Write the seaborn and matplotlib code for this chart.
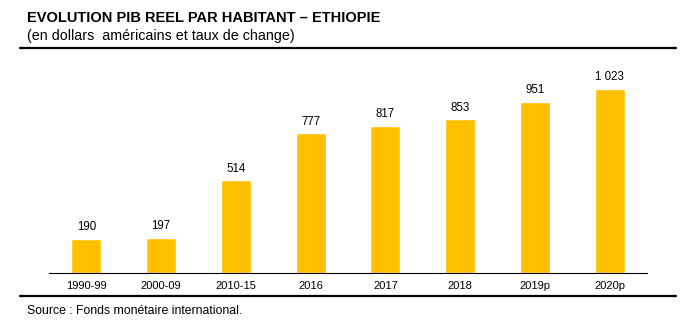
import matplotlib
matplotlib.use("Agg")
import matplotlib.pyplot as plt
import seaborn as sns
import pandas as pd
from matplotlib.lines import Line2D

categories = ["1990-99", "2000-09", "2010-15", "2016", "2017", "2018", "2019p", "2020p"]
values = [190, 197, 514, 777, 817, 853, 951, 1023]
labels = ["190", "197", "514", "777", "817", "853", "951", "1 023"]

sns.set_theme(style="white")
plt.rcParams['font.family'] = ['Liberation Sans', 'DejaVu Sans']

W, H = 696, 328
fig = plt.figure(figsize=(W / 100, H / 100), dpi=100)
ax = fig.add_axes([49 / W, (H - 273) / H, 598 / W, (273 - 60) / H])

df = pd.DataFrame({"cat": categories, "val": values})
sns.barplot(data=df, x="cat", y="val", color="#FFC000", saturation=1, width=0.4, ax=ax)
ax.set_ylim(0, 1183)
ax.set_xlim(-0.5, len(categories) - 0.5)

for p, lab in zip(ax.patches, labels):
    ax.annotate(lab, (p.get_x() + p.get_width() / 2, p.get_height()),
                xytext=(0, 4), textcoords="offset points", ha="center", va="bottom",
                fontsize=8.3, color="#000000")

ax.set_xlabel("")
ax.set_ylabel("")
ax.set_yticks([])
ax.tick_params(axis="x", length=0, labelsize=8, pad=6, colors="#000000")
for s in ["top", "right", "left"]:
    ax.spines[s].set_visible(False)
ax.spines["bottom"].set_color("#000000")
ax.spines["bottom"].set_linewidth(0.8)

fig.text(27 / W, 1 - 18 / H, "EVOLUTION PIB REEL PAR HABITANT \u2013 ETHIOPIE",
         fontsize=10.5, fontweight="bold", va="center", ha="left", color="#000000")
fig.text(27 / W, 1 - 36 / H, "(en dollars  américains et taux de change)",
         fontsize=10.3, va="center", ha="left", color="#000000")
fig.text(27 / W, 1 - 311 / H, "Source : Fonds monétaire international.",
         fontsize=8.8, va="center", ha="left", color="#000000")

fig.add_artist(Line2D([20 / W, 676 / W], [1 - 48 / H, 1 - 48 / H], color="#000000", lw=1.6))
fig.add_artist(Line2D([20 / W, 676 / W], [1 - 296 / H, 1 - 296 / H], color="#000000", lw=1.6))

fig.savefig("out.png", dpi=100)
